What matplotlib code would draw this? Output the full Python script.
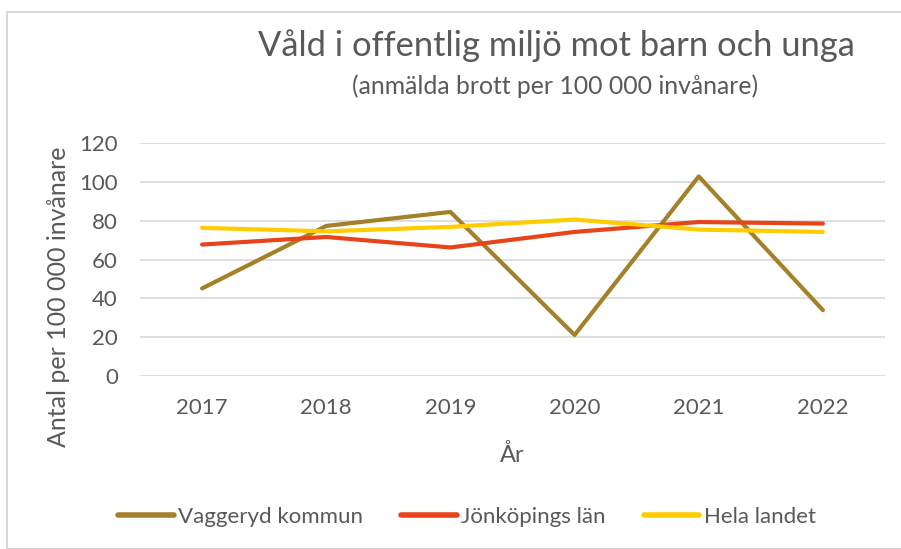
import numpy as np
from matplotlib import pyplot as plt
from matplotlib.patches import Rectangle

# data
years = ["2017", "2018", "2019", "2020", "2021", "2022"]
vaggeryd = [45.1, 77.3, 84.5, 21.1, 102.8, 33.9]
jonkoping = [67.7, 71.6, 66.2, 74.2, 79.3, 78.5]
hela_landet = [76.3, 74.5, 76.8, 80.6, 75.4, 74.2]

series_names = ["Vaggeryd kommun", "Jönköpings län", "Hela landet"]
colors = ["#A5802B", "#E8441A", "#FFCC00"]
grey = "#595959"

plt.rcParams['font.family'] = ['Lato', 'DejaVu Sans']

fig = plt.figure(figsize=(9.01, 5.49), dpi=100)
W, H = 901, 549
ax = fig.add_axes([140 / W, 1 - 376 / H, 745 / W, 233 / H])

x = np.arange(len(years))
for vals, name, c in zip([vaggeryd, jonkoping, hela_landet], series_names, colors):
    ax.plot(x, vals, color=c, lw=3.0, solid_capstyle="round",
            solid_joinstyle="round", label=name)

ax.set_xlim(-0.5, len(years) - 0.5)
ax.set_ylim(0, 120)
ax.set_yticks(np.arange(0, 121, 20))
ax.set_xticks(x, years)
ax.grid(axis="y", color="#D9D9D9", lw=1.2)
ax.set_axisbelow(True)
for s in ax.spines.values():
    s.set_visible(False)
ax.tick_params(length=0, colors=grey, labelsize=16)
ax.tick_params(axis="y", pad=16)
ax.tick_params(axis="x", pad=16)

ax.set_xlabel("År", color=grey, fontsize=17)
ax.xaxis.set_label_coords((512 - 140) / 745, (376 - 444) / 233)
ax.set_ylabel("Antal per 100 000 invånare", color=grey, fontsize=18)
ax.yaxis.set_label_coords((70 - 140) / 745, (376 - 297) / 233)

fig.text(556 / W, 1 - 46 / H, "Våld i offentlig miljö mot barn och unga",
         ha="center", va="center", color=grey, fontsize=24.8)
fig.text(555 / W, 1 - 86 / H, "(anmälda brott per 100 000 invånare)",
         ha="center", va="center", color=grey, fontsize=17.8)

leg = fig.legend(loc="center", bbox_to_anchor=(467 / W, 1 - 517 / H), ncol=3,
                 frameon=False, fontsize=16, handlelength=2.5, handletextpad=0.2,
                 columnspacing=1.7, labelcolor=grey)
for line in leg.get_lines():
    line.set_linewidth(4)

# outer chart border (cut at right and bottom in the reference)
fig.patches.append(Rectangle((6.5 / W, 0), 1, 1 - 11.5 / H, transform=fig.transFigure,
                             fill=False, edgecolor="#D9D9D9", lw=1.5))

fig.savefig("out.png", dpi=100)
